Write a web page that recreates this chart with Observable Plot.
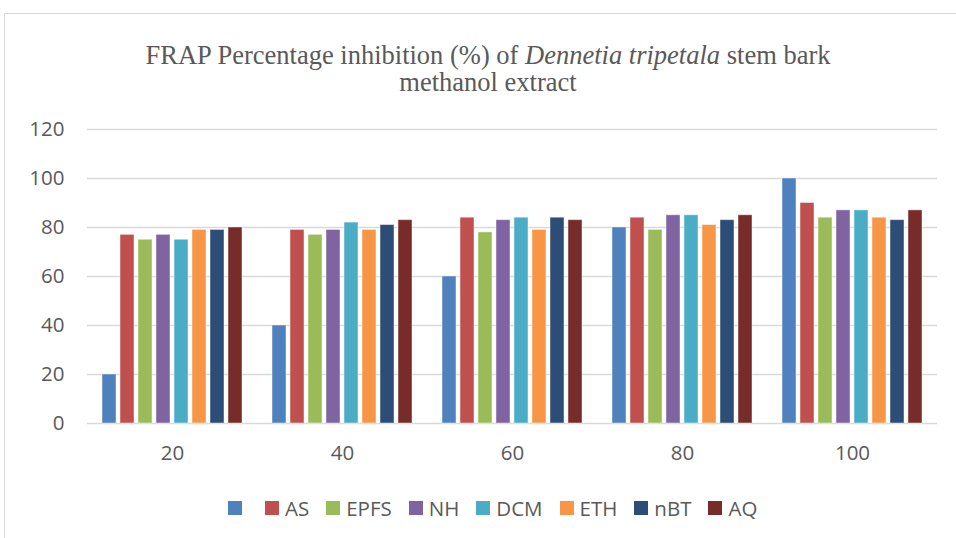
<!DOCTYPE html>
<html>
<head>
<meta charset="utf-8">
<script src="https://cdn.jsdelivr.net/npm/d3@7"></script>
<script src="https://cdn.jsdelivr.net/npm/@observablehq/plot@0.6"></script>
<style>
  html, body { margin: 0; padding: 0; background: #fff; }
  #wrap { position: relative; width: 956px; height: 538px; overflow: hidden; }
  #frame { position: absolute; left: 4px; top: 13px; width: 1000px; height: 600px; border: 1.5px solid #d9d9d9; box-sizing: border-box; }
  #title { position: absolute; left: 0; width: 976px; top: 42px; text-align: center; font-family: "Liberation Serif", "DejaVu Serif", serif; font-size: 26.5px; line-height: 27px; color: #595959; }
  #chart { position: absolute; left: 0; top: 100px; }
  #legend { position: absolute; top: 494px; left: 228px; height: 28px; display: flex; align-items: center; font-family: "Open Sans", sans-serif; font-size: 20.5px; color: #595959; }
  .item { display: flex; align-items: center; margin-right: 17px; }
  .sw { width: 14px; height: 14px; margin-right: 6px; }
</style>
</head>
<body>
<div id="wrap">
  <div id="frame"></div>
  <div id="title">FRAP Percentage inhibition (%) of <i>Dennetia tripetala</i> stem bark<br>methanol extract</div>
  <div id="chart"></div>
  <div id="legend"></div>
</div>
<script>
const groups = ["20", "40", "60", "80", "100"];
const seriesKeys = ["S0", "AS", "EPFS", "NH", "DCM", "ETH", "nBT", "AQ"];
const seriesLabels = ["", "AS", "EPFS", "NH", "DCM", "ETH", "nBT", "AQ"];
const colors = ["#4F81BD", "#C0504D", "#9BBB59", "#8064A2", "#4BACC6", "#F79646", "#2C4D75", "#772C2A"];
const S0   = [20, 40, 60, 80, 100];
const AS   = [77, 79, 84, 84, 90];
const EPFS = [75, 77, 78, 79, 84];
const NH   = [77, 79, 83, 85, 87];
const DCM  = [75, 82, 84, 85, 87];
const ETH  = [79, 79, 79, 81, 84];
const nBT  = [79, 81, 84, 83, 83];
const AQ   = [80, 83, 83, 85, 87];
const yTicks = [0, 20, 40, 60, 80, 100, 120];

const valuesBySeries = [S0, AS, EPFS, NH, DCM, ETH, nBT, AQ];
const data = [];
groups.forEach((g, gi) => {
  seriesKeys.forEach((k, si) => {
    data.push({group: g, key: k, value: valuesBySeries[si][gi]});
  });
});

const chart = Plot.plot({
  width: 956,
  height: 363,
  marginTop: 29,
  marginBottom: 40,
  marginLeft: 85,
  marginRight: 18,
  style: {fontFamily: "'Open Sans', sans-serif", fontSize: "20.5px", color: "#595959", background: "transparent", overflow: "visible"},
  fx: {domain: groups, padding: 0, label: null, axis: "bottom", tickSize: 0, tickPadding: 22},
  x: {domain: seriesKeys, paddingInner: 0.2, paddingOuter: 0.8, axis: null},
  y: {domain: [0, 120], ticks: yTicks, label: null, tickSize: 0, tickPadding: 23},
  color: {domain: seriesKeys, range: colors},
  marks: [
    Plot.ruleY(yTicks, {stroke: "#d9d9d9", strokeWidth: 1.5}),
    Plot.barY(data, {fx: "group", x: "key", y: "value", fill: "key", stroke: "#ffffff", strokeOpacity: 0.45, strokeWidth: 1})
  ]
});
document.getElementById("chart").appendChild(chart);

const legend = d3.select("#legend");
seriesKeys.forEach((k, i) => {
  const it = legend.append("div").attr("class", "item");
  it.append("div").attr("class", "sw").style("background", colors[i]);
  it.append("span").text(seriesLabels[i]);
});
</script>
</body>
</html>
